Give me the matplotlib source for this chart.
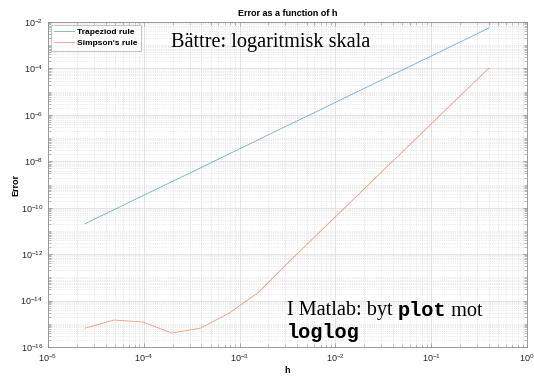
import numpy as np
import matplotlib.pyplot as plt
from matplotlib.ticker import LogLocator, NullFormatter, FixedLocator

plt.rcParams['font.family'] = ['Liberation Sans', 'DejaVu Sans']
plt.rcParams['mathtext.fontset'] = 'custom'
plt.rcParams['mathtext.rm'] = 'Liberation Sans:bold'
plt.rcParams['mathtext.bf'] = 'Liberation Sans:bold'

# steglängder (h halveras varje gång)
h = [0.4, 0.2, 0.1, 0.05, 0.025, 0.0125, 6.25e-3, 3.125e-3, 1.5625e-3,
     7.8125e-4, 3.90625e-4, 1.953125e-4, 9.765625e-5, 4.8828125e-5, 2.44140625e-5]

# fel
fel_trapets = [5.5e-3, 1.37e-3, 3.4e-4, 8.6e-5, 2.15e-5, 5.4e-6, 1.34e-6, 3.4e-7,
               8.4e-8, 2.1e-8, 5.2e-9, 1.3e-9, 3.3e-10, 8.2e-11, 2.05e-11]
fel_simpson = [1.04e-4, 6.5e-6, 4.06e-7, 2.54e-8, 1.59e-9, 9.9e-11, 6.2e-12, 3.9e-13,
               2.2e-14, 2.9e-15, 6.5e-16, 4.0e-16, 1.2e-15, 1.45e-15, 6.5e-16]

x_ticks = [1e-5, 1e-4, 1e-3, 1e-2, 1e-1, 1e0]
y_ticks = [1e-16, 1e-14, 1e-12, 1e-10, 1e-8, 1e-6, 1e-4, 1e-2]

blue = (0.0, 0.447, 0.741)
orange = (0.85, 0.325, 0.098)

fig = plt.figure(figsize=(5.34, 3.88), dpi=100)
ax = fig.add_axes([48 / 534, 1 - 347 / 388, (527 - 48) / 534, (347 - 22) / 388])

ax.loglog(h, fel_trapets, color=blue, lw=0.6, alpha=0.55, label='Trapeziod rule')
ax.loglog(h, fel_simpson, color=orange, lw=0.6, alpha=0.55, label="Simpson's rule")

ax.set_xlim(1e-5, 1)
ax.set_ylim(1e-16, 1e-2)
ax.xaxis.set_major_locator(FixedLocator(x_ticks))
ax.yaxis.set_major_locator(FixedLocator(y_ticks))
ax.yaxis.set_minor_locator(LogLocator(base=10, subs=np.arange(1, 10), numticks=30))
ax.xaxis.set_minor_locator(LogLocator(base=10, subs=np.arange(2, 10), numticks=30))
ax.yaxis.set_minor_formatter(NullFormatter())
ax.xaxis.set_minor_formatter(NullFormatter())

ax.grid(True, which='major', color='0.85', lw=0.5)
ax.grid(True, which='minor', color='0.85', lw=0.5, ls=':')
ax.tick_params(which='both', direction='in', top=True, right=True, colors='0.55',
               labelcolor='0.15', labelsize=6.5)
ax.tick_params(which='major', length=3, width=0.5)
ax.tick_params(which='minor', length=2, width=0.4)
for s in ax.spines.values():
    s.set_color('0.55')
    s.set_linewidth(0.6)

ax.set_title('Error as a function of h', fontsize=6.5, fontweight='bold', pad=4)
ax.set_xlabel('h', fontsize=6.5, fontweight='bold', labelpad=2)
ax.set_ylabel('Error', fontsize=6.5, fontweight='bold', labelpad=0)

leg = ax.legend(loc='upper left', fontsize=6, frameon=True, fancybox=False,
                handlelength=2.4, handletextpad=0.35, borderpad=0.45,
                labelspacing=0.35, borderaxespad=0.3)
leg.get_frame().set_edgecolor('0.6')
leg.get_frame().set_linewidth(0.5)
for t in leg.get_texts():
    t.set_fontweight('bold')

serif = ['Liberation Serif', 'DejaVu Serif']
mono = ['Liberation Mono', 'DejaVu Sans Mono']
fs = 14.6
fig.text(171 / 534, 1 - 42 / 388, 'Bättre: logaritmisk skala', family=serif,
         fontsize=fs, va='center', ha='left')

t1 = fig.text(287 / 534, 1 - 311 / 388, 'I Matlab: byt ', family=serif,
              fontsize=fs, va='center', ha='left')
fig.canvas.draw()
r = fig.canvas.get_renderer()
bb = t1.get_window_extent(r)
t2 = fig.text(bb.x1 / 534, 1 - 311 / 388, 'plot', family=mono, fontweight='bold',
              fontsize=fs, va='center', ha='left')
bb2 = t2.get_window_extent(r)
fig.text(bb2.x1 / 534, 1 - 311 / 388, ' mot', family=serif,
         fontsize=fs, va='center', ha='left')
fig.text(287 / 534, 1 - 332 / 388, 'loglog', family=mono, fontweight='bold',
         fontsize=fs, va='center', ha='left')

fig.savefig('out.png', dpi=100)
